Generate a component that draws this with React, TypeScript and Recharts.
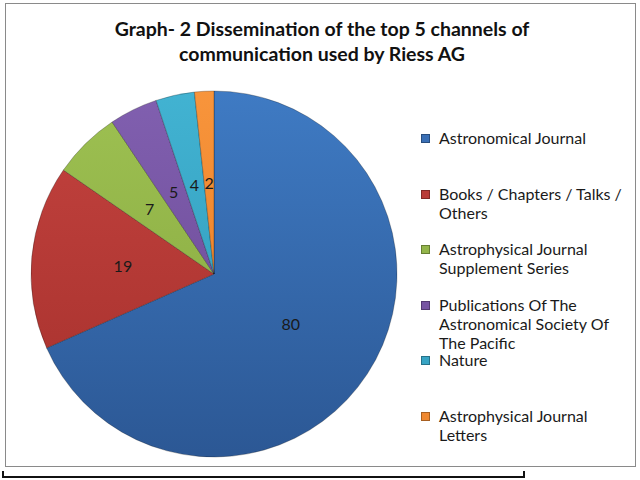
import React from 'react';
import { PieChart, Pie, Cell, Legend } from 'recharts';

const categories = [
  'Astronomical Journal',
  'Books / Chapters / Talks / Others',
  'Astrophysical Journal Supplement Series',
  'Publications Of The Astronomical Society Of The Pacific',
  'Nature',
  'Astrophysical Journal Letters',
];
const values = [80, 19, 7, 5, 4, 2];
const colorsTop = ['#3F7BC4', '#C4433F', '#9EC152', '#8160B0', '#42B3D2', '#F8953C'];
const colorsBottom = ['#2C5895', '#A5302C', '#85A63E', '#684691', '#2E96B6', '#E67820'];
const legendColors = ['#3A6FB5', '#B93B37', '#93B54A', '#7654A2', '#37A4C4', '#EF8830'];
const titleLines = ['Graph- 2 Dissemination of the top 5 channels of', 'communication used by Riess AG'];

const data = categories.map((name, i) => ({ name, value: values[i] }));

const FONT = "Lato, Carlito, 'Open Sans', sans-serif";
const RADIAN = Math.PI / 180;

const renderLabel = (props: any) => {
  const { cx, cy, midAngle, outerRadius, value } = props;
  const r = outerRadius * 0.5;
  const x = cx + r * Math.cos(-midAngle * RADIAN);
  const y = cy + r * Math.sin(-midAngle * RADIAN);
  return (
    <text
      x={x}
      y={y}
      fill="#1a1a1a"
      fontSize={16}
      fontFamily={FONT}
      textAnchor="middle"
      dominantBaseline="central"
    >
      {value}
    </text>
  );
};

const renderLegend = () => {
  return (
    <div style={{ fontFamily: FONT, fontSize: 16, color: '#1a1a1a' }}>
      {categories.map((name, i) => (
        <div key={i} style={{ height: 55.5, display: 'flex', alignItems: 'flex-start' }}>
          <div
            style={{
              width: 7,
              height: 7,
              marginTop: 6,
              flex: '0 0 7px',
              background: legendColors[i],
              border: '0.5px solid rgba(0,0,0,0.3)',
            }}
          />
          <div style={{ marginLeft: 9, width: 192, lineHeight: '19px' }}>{name}</div>
        </div>
      ))}
    </div>
  );
};

export default function App() {
  return (
    <div style={{ position: 'absolute', left: 0, top: 0, width: 640, height: 480, background: '#fff', fontFamily: FONT }}>
      <div
        style={{
          position: 'absolute',
          left: 5,
          top: 3,
          width: 629,
          height: 462,
          border: '1.5px solid #8a8a8a',
        }}
      />
      <div
        style={{
          position: 'absolute',
          left: 2,
          top: 471,
          width: 519,
          height: 5,
          border: '2px solid #111',
          borderTop: 'none',
        }}
      />
      <div
        style={{
          position: 'absolute',
          left: 22,
          top: 16,
          width: 600,
          textAlign: 'center',
          fontWeight: 700,
          fontSize: 19.5,
          lineHeight: '25px',
          color: '#111',
        }}
      >
        {titleLines.map((t, i) => (
          <div key={i}>{t}</div>
        ))}
      </div>
      <div style={{ position: 'absolute', left: 0, top: 0 }}>
        <PieChart width={640} height={480}>
          <defs>
            {colorsTop.map((c, i) => (
              <linearGradient key={i} id={`g${i}`} x1="0" y1="87" x2="0" y2="452" gradientUnits="userSpaceOnUse">
                <stop offset="0%" stopColor={c} />
                <stop offset="100%" stopColor={colorsBottom[i]} />
              </linearGradient>
            ))}
          </defs>
          <Pie
            data={data}
            dataKey="value"
            nameKey="name"
            cx={209}
            cy={269}
            outerRadius={183}
            startAngle={90}
            endAngle={-270}
            label={renderLabel}
            labelLine={false}
            isAnimationActive={false}
            stroke="rgba(0,0,0,0.25)"
            strokeWidth={1}
          >
            {data.map((_, i) => (
              <Cell key={i} fill={`url(#g${i})`} />
            ))}
          </Pie>
          <Legend
            layout="vertical"
            align="right"
            verticalAlign="top"
            content={renderLegend}
            wrapperStyle={{ position: 'absolute', left: 421, top: 128, width: 215 }}
          />
        </PieChart>
      </div>
    </div>
  );
}
